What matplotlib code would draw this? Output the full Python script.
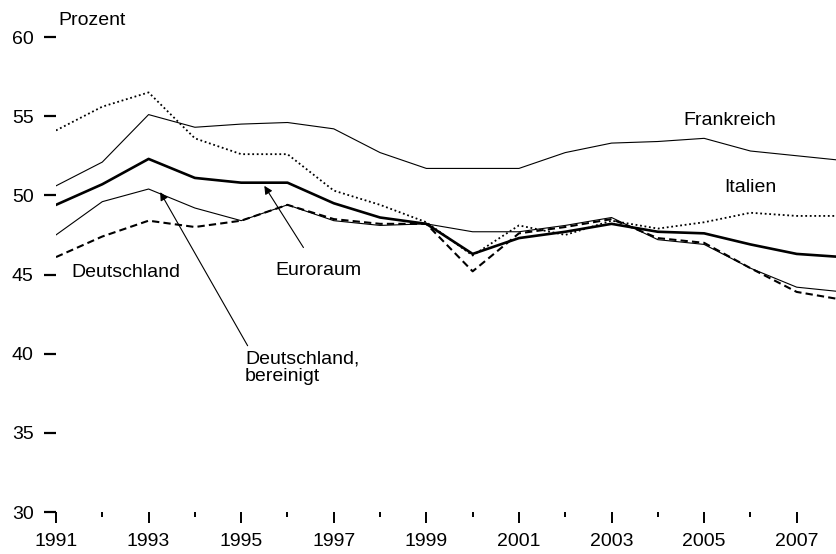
import matplotlib.pyplot as plt
from matplotlib.ticker import MultipleLocator

plt.rcParams['font.family'] = ['Liberation Sans Narrow', 'Liberation Sans', 'DejaVu Sans']

jahre = list(range(1991, 2009))

frankreich = [50.6, 52.1, 55.1, 54.3, 54.5, 54.6, 54.2, 52.7, 51.7, 51.7, 51.7, 52.7, 53.3, 53.4, 53.6, 52.8, 52.5, 52.2]
italien = [54.1, 55.6, 56.5, 53.6, 52.6, 52.6, 50.3, 49.4, 48.3, 46.2, 48.1, 47.5, 48.4, 47.9, 48.3, 48.9, 48.7, 48.7]
euroraum = [49.4, 50.7, 52.3, 51.1, 50.8, 50.8, 49.5, 48.6, 48.2, 46.3, 47.3, 47.7, 48.2, 47.7, 47.6, 46.9, 46.3, 46.1]
deutschland = [46.1, 47.4, 48.4, 48.0, 48.4, 49.4, 48.5, 48.2, 48.2, 45.2, 47.6, 48.0, 48.5, 47.3, 47.0, 45.4, 43.9, 43.4]
deutschland_ber = [47.5, 49.6, 50.4, 49.2, 48.4, 49.4, 48.4, 48.1, 48.2, 47.7, 47.7, 48.1, 48.6, 47.2, 46.9, 45.4, 44.2, 43.9]

fig = plt.figure(figsize=(8.37, 5.54), dpi=100)
ax = fig.add_axes([0.0669, 0.0758, 0.9331, 0.8574])

ax.plot(jahre, frankreich, color='black', lw=0.8)
ax.plot(jahre, deutschland_ber, color='black', lw=0.8)
ax.plot(jahre, italien, color='black', lw=1.3, ls=(0, (1, 1.5)))
ax.plot(jahre, deutschland, color='black', lw=1.5, ls=(0, (3.5, 2)))
ax.plot(jahre, euroraum, color='black', lw=1.9)

ax.set_xlim(1991, 2007.87)
ax.set_ylim(30, 60)

for s in ax.spines.values():
    s.set_visible(False)

ax.set_yticks(range(30, 61, 5))
ax.xaxis.set_major_locator(MultipleLocator(2))
ax.xaxis.set_minor_locator(MultipleLocator(1))
ax.set_xticks(range(1991, 2008, 2))
ax.tick_params(axis='y', direction='out', length=9, width=1.6, pad=7, labelsize=14)
ax.tick_params(axis='x', which='major', direction='out', length=8, width=1.4, pad=7, labelsize=14)
ax.tick_params(axis='x', which='minor', direction='out', length=3.5, width=1.4)

fs = 14
ax.text(1991.05, 60.5, 'Prozent', fontsize=fs, va='bottom', ha='left')
ax.text(2005.56, 54.75, 'Frankreich', fontsize=fs, ha='center', va='center')
ax.text(2006.0, 50.5, 'Italien', fontsize=fs, ha='center', va='center')
ax.text(1992.5, 45.1, 'Deutschland', fontsize=fs, ha='center', va='center')
ax.annotate('Euroraum', xy=(1995.5, 50.6), xytext=(1996.66, 45.25),
            fontsize=fs, ha='center', va='center',
            arrowprops=dict(arrowstyle='-|>', color='black', lw=0.8,
                            mutation_scale=12, shrinkA=10, shrinkB=0))
ax.annotate('Deutschland,\nbereinigt', xy=(1993.25, 50.2), xytext=(1995.08, 39.1),
            fontsize=fs, ha='left', va='center', linespacing=1.0,
            arrowprops=dict(arrowstyle='-|>', color='black', lw=0.8,
                            mutation_scale=12, shrinkA=2, shrinkB=0,
                            relpos=(0.05, 1.0)))

fig.savefig('out.png', dpi=100)
